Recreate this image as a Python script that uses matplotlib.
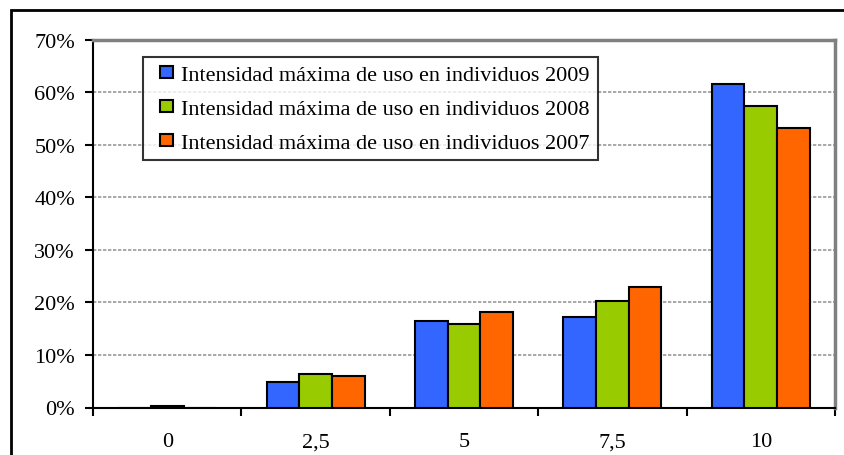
import numpy as np
import matplotlib.pyplot as plt
from matplotlib.patches import Rectangle
from matplotlib.container import BarContainer
from matplotlib.legend_handler import HandlerPatch, update_from_first_child

# Datos
categorias = ["0", "2,5", "5", "7,5", "10"]
serie_2009 = [0.0, 4.8, 16.5, 17.3, 61.5]
serie_2008 = [0.3, 6.3, 15.8, 20.3, 57.3]
serie_2007 = [0.0, 5.9, 18.1, 23.0, 53.2]
etiquetas = ["Intensidad máxima de uso en individuos 2009",
             "Intensidad máxima de uso en individuos 2008",
             "Intensidad máxima de uso en individuos 2007"]
colores = ["#3366FF", "#99CC00", "#FF6600"]

plt.rcParams['font.family'] = ['Liberation Serif', 'DejaVu Serif']


def cuadrado(legend, orig_handle, xdescent, ydescent, width, height, fontsize):
    # cuadradito pegado a la derecha de la caja del handle
    s = 0.57 * fontsize
    return Rectangle((width - s - xdescent, -ydescent + (height - s) / 2), s, s)


fig = plt.figure(figsize=(8.45, 4.56), dpi=100)
ax = fig.add_axes([93 / 845, 1 - 408.5 / 456, (835 - 93) / 845, (408.5 - 40.5) / 456])

x = np.arange(len(categorias))
ancho = 0.22
for i, (vals, col, lab) in enumerate(zip([serie_2009, serie_2008, serie_2007], colores, etiquetas)):
    ax.bar(x + (i - 1) * ancho, vals, ancho, color=col, edgecolor='black',
           linewidth=1.5, label=lab, zorder=3)

ax.set_xlim(-0.5, len(categorias) - 0.5)
ax.set_ylim(0, 70)
ax.set_yticks(np.arange(0, 71, 10))
ax.set_yticklabels([f"{v}%" for v in range(0, 71, 10)], fontsize=16)
ax.set_xticks(x)
ax.set_xticklabels(categorias, fontsize=16)
ax.set_xticks(np.arange(-0.5, len(categorias), 1), minor=True)
ax.tick_params(axis='x', which='major', length=0, pad=18)
ax.tick_params(axis='x', which='minor', length=6, width=1.5, direction='out')
ax.tick_params(axis='y', length=6, width=1.5, direction='out', pad=7)

ax.yaxis.grid(True, linestyle=(0, (2, 1)), color='#999999', linewidth=1.2, zorder=0)
for s in ['left', 'bottom']:
    ax.spines[s].set_linewidth(1.5)
    ax.spines[s].set_color('black')
for s in ['top', 'right']:
    ax.spines[s].set_linewidth(2.5)
    ax.spines[s].set_color('#808080')

leg = ax.legend(loc='upper left', bbox_to_anchor=(50 / 742, 1 - 17 / 368), fontsize=16,
                frameon=True, fancybox=False, edgecolor='black', handlelength=1.0,
                handleheight=0.7, handletextpad=0.38, labelspacing=0.6, borderpad=0.35,
                borderaxespad=0,
                handler_map={BarContainer: HandlerPatch(patch_func=cuadrado,
                                                        update_func=update_from_first_child)})
leg.get_frame().set_linewidth(1.5)

fig.patches.append(Rectangle((11 / 845, -0.1), 1.0, 1.1 - 11 / 456,
                             transform=fig.transFigure, fill=False,
                             edgecolor='black', linewidth=2))

fig.savefig("out.png", dpi=100)
